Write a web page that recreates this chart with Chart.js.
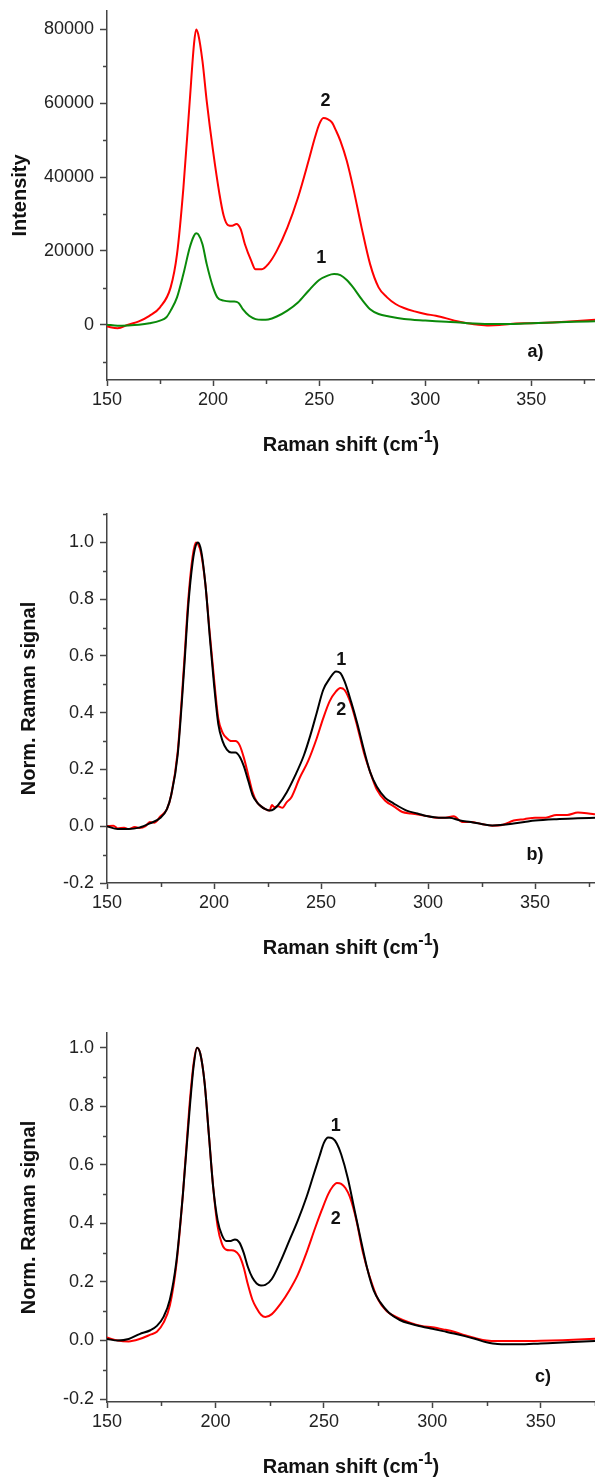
<!DOCTYPE html>
<html>
<head>
<meta charset="utf-8">
<script src="https://cdn.jsdelivr.net/npm/chart.js@4.4.1/dist/chart.umd.min.js"></script>
<style>
  html, body { margin: 0; padding: 0; background: #fff; }
  body { width: 595px; height: 1478px; position: relative; overflow: hidden; }
  canvas { position: absolute; left: 0; }
</style>
</head>
<body>
<canvas id="chartA" width="595" height="465" style="top:0px"></canvas>
<canvas id="chartB" width="595" height="480" style="top:485px"></canvas>
<canvas id="chartC" width="595" height="478" style="top:1000px"></canvas>
<script>
// ---- panel a) raw intensity ----
const shiftA2 = [150,155,160,165,170,175,180,183,186,189,191,192,193,195,197,200,203,205,207,209,211,213,215,218,220,223,226,230,235,240,245,248,250,252,254,256,258,260,263,266,270,274,278,282,286,290,295,300,305,310,315,320,325,330,335,340,350,360,370,380];
const intensA2 = [-500,-1000,0,900,2400,4700,10100,19100,37000,60600,76000,80000,78700,71400,60600,47000,35400,29500,27000,26800,27300,25900,21800,17300,15000,15000,16400,20000,26300,34400,44400,50700,54300,56000,55700,54800,52500,49800,44400,37200,26300,16400,10100,7400,5600,4500,3600,2900,2400,1700,900,400,0,-200,-100,200,400,600,900,1300];
const shiftA1 = [150,155,160,165,170,175,178,180,183,186,189,191,192,193,195,197,200,202,205,208,210,212,214,217,220,223,226,230,235,240,245,250,254,257,260,263,266,270,274,278,283,290,300,310,320,330,340,350,360,370,380];
const intensA1 = [0,-300,-200,0,400,1100,2000,3800,7400,13700,20900,24100,24800,24500,21800,16400,10100,7400,6500,6300,6300,5900,4200,2400,1500,1300,1400,2200,3800,6000,9200,12100,13300,13700,13400,12100,10100,6900,4200,2900,2200,1500,1100,800,400,200,200,400,600,800,900];

// ---- panel b) normalised ----
const shiftB1 = [150,155,160,165,170,175,178,180,183,186,188,190,191.5,192.5,194,196,198,200,202,204,206,208,210,212,214,216,218,220,222,224,226,228,230,234,238,242,245,248,251,254,257,259,261,264,267,270,273,276,280,284,290,295,300,305,310,315,320,325,330,335,340,345,350,360,370,378];
const normB1 = [0,-0.01,-0.01,-0.005,0.01,0.03,0.06,0.11,0.25,0.55,0.78,0.93,0.99,1.0,0.97,0.85,0.67,0.5,0.36,0.3,0.27,0.26,0.26,0.245,0.21,0.16,0.11,0.085,0.07,0.06,0.055,0.06,0.075,0.12,0.18,0.25,0.32,0.4,0.48,0.52,0.545,0.54,0.51,0.44,0.36,0.27,0.19,0.14,0.1,0.08,0.055,0.045,0.035,0.03,0.03,0.02,0.015,0.008,0.003,0.005,0.01,0.015,0.02,0.025,0.028,0.03];
const shiftB2 = [150,153,155,158,160,163,165,168,170,172,175,178,180,183,186,188,190,191.5,192.5,194,196,198,200,202,204,206,208,210,212,214,216,218,220,222,224,226,227,228,230,232,234,236,240,244,248,251,254,257,259,261,264,267,270,273,276,280,284,288,292,296,300,304,308,312,316,320,325,330,335,340,345,350,355,360,365,370,375,378];
const normB2 = [0,0.002,-0.008,-0.005,-0.01,-0.003,-0.006,0.0,0.015,0.012,0.035,0.06,0.11,0.26,0.57,0.8,0.95,1.0,0.995,0.96,0.85,0.68,0.52,0.38,0.33,0.31,0.3,0.3,0.285,0.24,0.18,0.12,0.085,0.07,0.06,0.055,0.075,0.068,0.07,0.065,0.085,0.1,0.17,0.23,0.31,0.38,0.44,0.475,0.487,0.48,0.43,0.35,0.26,0.19,0.13,0.09,0.07,0.05,0.045,0.04,0.035,0.03,0.03,0.035,0.015,0.015,0.008,0.002,0.005,0.02,0.025,0.03,0.03,0.04,0.04,0.048,0.045,0.042];

// ---- panel c) normalised ----
const shiftC1 = [150,155,160,165,170,173,176,179,182,185,188,190,191.5,193,195,197,199,201,203,205,207,209,211,213,215,217,219,221,223,226,230,234,238,242,245,248,250,252,254,256,258,261,264,267,270,273,276,280,285,290,295,300,305,310,315,320,325,330,340,350,360,375];
const normC1 = [0.005,0.0,0.005,0.022,0.035,0.05,0.08,0.14,0.27,0.5,0.78,0.94,1.0,0.98,0.88,0.7,0.52,0.41,0.36,0.34,0.34,0.345,0.335,0.3,0.25,0.215,0.195,0.188,0.19,0.21,0.27,0.34,0.41,0.49,0.56,0.63,0.675,0.693,0.69,0.672,0.635,0.555,0.45,0.345,0.245,0.17,0.13,0.095,0.07,0.057,0.048,0.04,0.032,0.024,0.015,0.005,-0.006,-0.012,-0.013,-0.01,-0.007,-0.002];
const shiftC2 = [150,155,160,165,170,173,176,179,182,185,188,190,191.5,193,195,197,199,201,203,205,207,209,211,213,215,217,219,221,223,226,230,234,238,242,246,249,252,254,256,258,260,262,265,268,271,275,279,284,290,295,300,305,310,315,320,325,330,340,350,360,375];
const normC2 = [0.01,0.0,-0.003,0.005,0.02,0.03,0.06,0.12,0.26,0.5,0.8,0.95,1.0,0.98,0.88,0.7,0.52,0.39,0.33,0.31,0.308,0.305,0.29,0.25,0.19,0.14,0.11,0.088,0.08,0.09,0.125,0.17,0.225,0.3,0.385,0.445,0.5,0.525,0.538,0.535,0.52,0.49,0.41,0.3,0.22,0.14,0.1,0.078,0.06,0.05,0.045,0.038,0.03,0.018,0.008,0.0,-0.002,-0.002,-0.001,0.001,0.006];

// axis ticks
const xTicks = [150, 200, 250, 300, 350];
const xMinor = [175, 225, 275, 325, 375];
const yTicksA = [0, 20000, 40000, 60000, 80000];
const yMinorA = [-10000, 10000, 30000, 50000, 70000];
const yTicksNorm = [-0.2, 0, 0.2, 0.4, 0.6, 0.8, 1.0];
const yMinorB = [-0.1, 0.1, 0.3, 0.5, 0.7, 0.9, 1.1];
const yMinorC = [-0.1, 0.1, 0.3, 0.5, 0.7, 0.9];

const AXIS = '#444';
const FONT = "'Liberation Sans', Arial, sans-serif";

function pairs(xs, ys) {
    return xs.map((x, i) => ({ x: x, y: ys[i] }));
}

// minor ticks, x title with superscript, curve labels
const extrasPlugin = {
    id: 'extras',
    afterDraw(chart, args, opts) {
        const ctx = chart.ctx;
        const xs = chart.scales.x, ys = chart.scales.y;
        const area = chart.chartArea;
        ctx.save();
        ctx.strokeStyle = AXIS;
        ctx.lineWidth = 1.5;
        ctx.beginPath();
        (opts.xMinor || []).forEach(v => {
            const px = Math.round(xs.getPixelForValue(v)) + 0.5;
            if (px > area.right + 1) return;
            ctx.moveTo(px, area.bottom);
            ctx.lineTo(px, area.bottom + 4);
        });
        (opts.yMinor || []).forEach(v => {
            const py = Math.round(ys.getPixelForValue(v)) + 0.5;
            ctx.moveTo(area.left - 4, py);
            ctx.lineTo(area.left, py);
        });
        ctx.stroke();

        // x axis title: Raman shift (cm-1) with raised -1
        ctx.fillStyle = '#111';
        ctx.textAlign = 'left';
        ctx.textBaseline = 'alphabetic';
        const big = 'bold 20px ' + FONT, small = 'bold 16px ' + FONT;
        const parts = [['Raman shift (cm', big, 0], ['-1', small, -9], [')', big, 0]];
        let w = 0;
        parts.forEach(p => { ctx.font = p[1]; w += ctx.measureText(p[0]).width; });
        let tx = (area.left + area.right) / 2 - w / 2;
        const base = area.bottom + 64 + 7;
        parts.forEach(p => {
            ctx.font = p[1];
            ctx.fillText(p[0], tx, base + p[2]);
            tx += ctx.measureText(p[0]).width;
        });

        ctx.font = 'bold 18px ' + FONT;
        ctx.textAlign = 'center';
        ctx.textBaseline = 'middle';
        (opts.labels || []).forEach(l => {
            ctx.fillText(l.text, xs.getPixelForValue(l.x), ys.getPixelForValue(l.y));
        });
        ctx.restore();
    }
};

function makePanel(id, cfg) {
    const canvas = document.getElementById(id);
    new Chart(canvas, {
        type: 'scatter',
        data: {
            datasets: cfg.series.map(s => ({
                data: s.data,
                showLine: true,
                borderColor: s.color,
                borderWidth: 2,
                pointRadius: 0,
                cubicInterpolationMode: 'monotone',
                fill: false
            }))
        },
        plugins: [extrasPlugin],
        options: {
            responsive: false,
            animation: false,
            devicePixelRatio: 1,
            layout: { padding: { top: cfg.padTop, left: 0, right: 0, bottom: 0 } },
            plugins: {
                legend: { display: false },
                tooltip: { enabled: false },
                extras: { xMinor: xMinor, yMinor: cfg.yMinor, labels: cfg.labels }
            },
            scales: {
                x: {
                    type: 'linear',
                    min: 150,
                    max: cfg.xMax,
                    afterBuildTicks: s => { s.ticks = xTicks.map(v => ({ value: v })); },
                    afterFit: s => { s.height = cfg.xHeight; s.paddingLeft = 0; s.paddingRight = 0; },
                    grid: { drawOnChartArea: false, drawTicks: true, tickLength: 6, tickColor: AXIS, tickWidth: 1.5 },
                    border: { color: AXIS, width: 1.5 },
                    ticks: { color: '#222', font: { family: FONT, size: 18 }, padding: 3, maxRotation: 0 },
                    title: { display: false }
                },
                y: {
                    type: 'linear',
                    min: cfg.yMin,
                    max: cfg.yMax,
                    afterBuildTicks: s => { s.ticks = cfg.yTicks.map(v => ({ value: v })); },
                    afterFit: s => { s.width = 107; s.paddingTop = 0; s.paddingBottom = 0; },
                    grid: { drawOnChartArea: false, drawTicks: true, tickLength: 7, tickColor: AXIS, tickWidth: 1.5 },
                    border: { color: AXIS, width: 1.5 },
                    ticks: {
                        color: '#222',
                        font: { family: FONT, size: 18 },
                        padding: 6,
                        callback: v => cfg.fmt(v)
                    },
                    title: {
                        display: true,
                        text: cfg.yTitle,
                        color: '#111',
                        font: { family: FONT, size: 20, weight: 'bold' },
                        padding: { top: cfg.yTitlePad, bottom: 0 }
                    }
                }
            }
        }
    });
}

makePanel('chartA', {
    series: [
        { data: pairs(shiftA1, intensA1), color: '#0a8a0a' },
        { data: pairs(shiftA2, intensA2), color: '#ff0000' }
    ],
    xMax: 380, yMin: -15000, yMax: 85000,
    yTicks: yTicksA, yMinor: yMinorA,
    fmt: v => String(v),
    yTitle: 'Intensity',
    padTop: 11, xHeight: 85, yTitlePad: 8,
    labels: [
        { text: '2', x: 253, y: 60500 },
        { text: '1', x: 251, y: 18100 },
        { text: 'a)', x: 352, y: -7500 }
    ]
});

makePanel('chartB', {
    series: [
        { data: pairs(shiftB1, normB1), color: '#000000' },
        { data: pairs(shiftB2, normB2), color: '#ff0000' }
    ],
    xMax: 378, yMin: -0.2, yMax: 1.1,
    yTicks: yTicksNorm, yMinor: yMinorB,
    fmt: v => v.toFixed(1),
    yTitle: 'Norm. Raman signal',
    padTop: 29, xHeight: 82, yTitlePad: 17,
    labels: [
        { text: '1', x: 259.5, y: 0.587 },
        { text: '2', x: 259.5, y: 0.411 },
        { text: 'b)', x: 350, y: -0.1 }
    ]
});

makePanel('chartC', {
    series: [
        { data: pairs(shiftC1, normC1), color: '#000000' },
        { data: pairs(shiftC2, normC2), color: '#ff0000' }
    ],
    xMax: 375, yMin: -0.21, yMax: 1.05,
    yTicks: yTicksNorm, yMinor: yMinorC,
    fmt: v => v.toFixed(1),
    yTitle: 'Norm. Raman signal',
    padTop: 33, xHeight: 76, yTitlePad: 17,
    labels: [
        { text: '1', x: 255.5, y: 0.733 },
        { text: '2', x: 255.5, y: 0.416 },
        { text: 'c)', x: 351, y: -0.125 }
    ]
});
</script>
</body>
</html>
